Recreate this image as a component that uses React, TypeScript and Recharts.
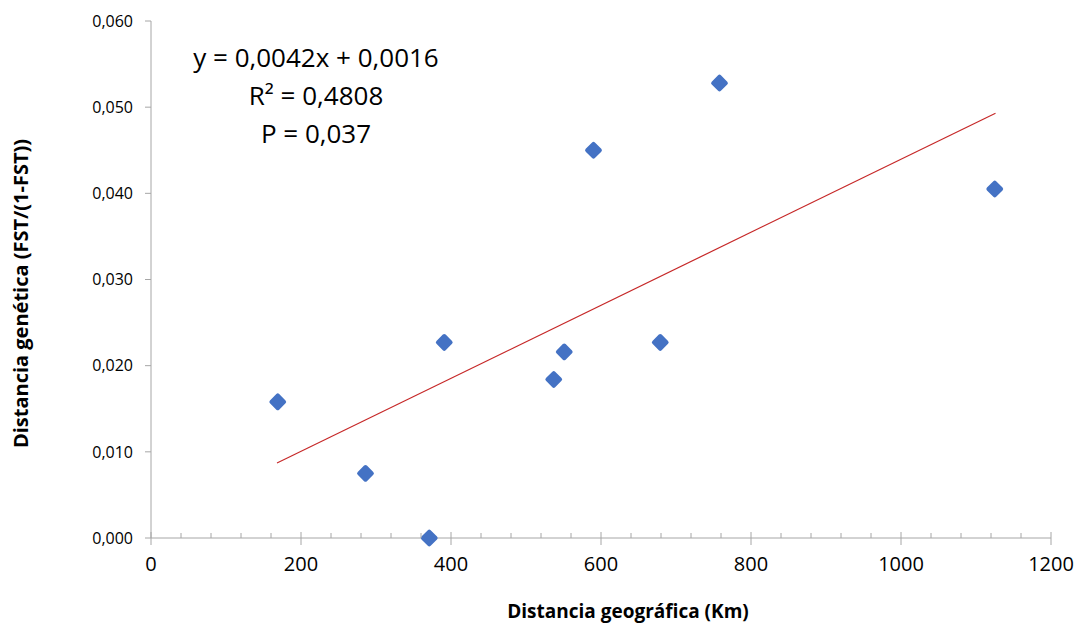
import React from "react";
import {
  ResponsiveContainer,
  Scatter,
  ScatterChart,
  XAxis,
  YAxis,
} from "recharts";

// distancia geográfica (km) vs distancia genética FST/(1-FST)
const geoKm = [169, 286, 371, 391, 537, 551, 590, 679, 758, 1125];
const fstRatio = [0.0158, 0.0075, 0.0, 0.0227, 0.0184, 0.0216, 0.045, 0.0227, 0.0528, 0.0405];

// trend line endpoints
const trendKm = [168, 1126];
const trendFst = [0.0087, 0.0493];

const xTicks = Array.from({ length: 31 }, (_, i) => i * 40);
const yTicks = [0, 0.01, 0.02, 0.03, 0.04, 0.05, 0.06];

const equationLines = ["y = 0,0042x + 0,0016", "R² = 0,4808", "P = 0,037"];

const points = geoKm.map((x, i) => ({ x, y: fstRatio[i] }));
const trend = trendKm.map((x, i) => ({ x, y: trendFst[i] }));

const FONT = "'Open Sans', 'Noto Sans', sans-serif";
const AXIS = "#A6A6A6";

function Diamond(props: any) {
  const { cx, cy } = props;
  if (cx == null || cy == null) return null;
  return (
    <rect
      x={cx - 6.5}
      y={cy - 6.5}
      width={13}
      height={13}
      rx={2}
      fill="#4472C4"
      transform={`rotate(45 ${cx} ${cy})`}
    />
  );
}

function XTick(props: any) {
  const { x, y, payload } = props;
  const v = payload.value as number;
  const major = v % 200 === 0;
  return (
    <g>
      {major ? (
        <line x1={x} x2={x} y1={y - 6} y2={y + 7} stroke={AXIS} strokeWidth={1} />
      ) : (
        <line x1={x} x2={x} y1={y - 5} y2={y} stroke={AXIS} strokeWidth={1} />
      )}
      {major && (
        <text
          x={x}
          y={y + 19}
          dy="0.71em"
          textAnchor="middle"
          fontSize={20}
          fontFamily={FONT}
          fill="#000"
        >
          {v}
        </text>
      )}
    </g>
  );
}

export default function App() {
  return (
    <div style={{ position: "absolute", left: 0, top: 0, width: 1075, height: 623, background: "#fff" }}>
      <ResponsiveContainer width={1075} height={623}>
        <ScatterChart margin={{ top: 21, right: 24, bottom: 0, left: 0 }}>
          <XAxis
            type="number"
            dataKey="x"
            domain={[0, 1200]}
            ticks={xTicks}
            interval={0}
            height={85}
            tickSize={0}
            tickMargin={0}
            tick={<XTick />}
            axisLine={{ stroke: AXIS }}
            tickLine={false}
            label={{
              value: "Distancia geográfica (Km)",
              position: "insideBottom",
              offset: 5,
              dx: 27,
              style: { fontFamily: FONT, fontWeight: 700, fontSize: 19, fill: "#000" },
            }}
          />
          <YAxis
            type="number"
            dataKey="y"
            domain={[0, 0.06]}
            ticks={yTicks}
            interval={0}
            width={151}
            tickSize={6}
            tickMargin={12}
            tickFormatter={(v: number) => v.toFixed(3).replace(".", ",")}
            tick={{ fontSize: 16, fontFamily: FONT, fill: "#000" }}
            axisLine={{ stroke: AXIS }}
            tickLine={{ stroke: AXIS }}
            label={{
              value: "Distancia genética (FST/(1-FST))",
              angle: -90,
              position: "insideLeft",
              offset: 21,
              dy: 14,
              style: { textAnchor: "middle", fontFamily: FONT, fontWeight: 700, fontSize: 20, fill: "#000" },
            }}
          />
          <Scatter
            data={trend}
            line={{ stroke: "#C62828", strokeWidth: 1.2 }}
            shape={() => <g />}
            isAnimationActive={false}
          />
          <Scatter data={points} shape={<Diamond />} isAnimationActive={false} />
        </ScatterChart>
      </ResponsiveContainer>
      <svg
        width={1075}
        height={623}
        style={{ position: "absolute", left: 0, top: 0, pointerEvents: "none" }}
      >
        {equationLines.map((t, i) => (
          <text
            key={t}
            x={316}
            y={58 + i * 38}
            dy="0.35em"
            textAnchor="middle"
            fontSize={26}
            fontFamily={FONT}
            fill="#000"
          >
            {t}
          </text>
        ))}
      </svg>
    </div>
  );
}
